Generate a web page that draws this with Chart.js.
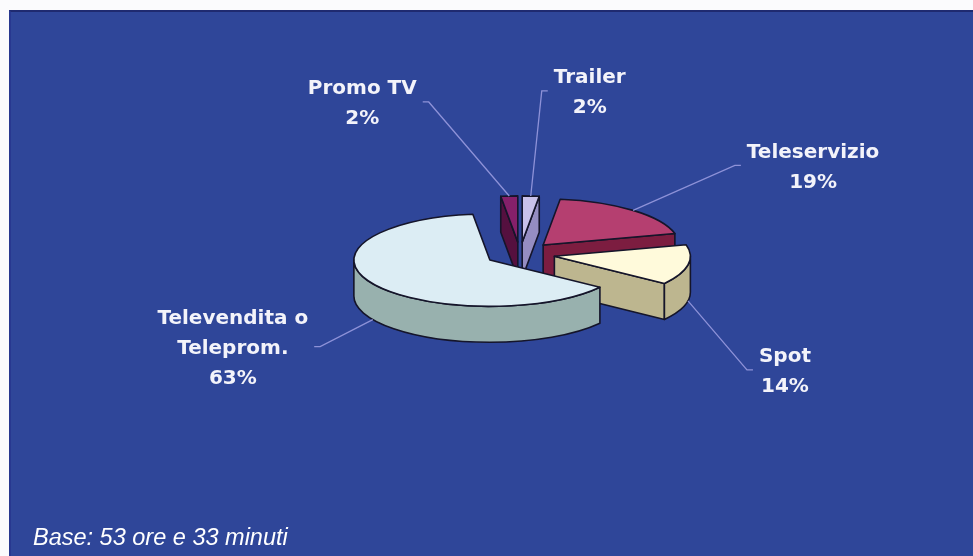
<!DOCTYPE html>
<html>
<head>
<meta charset="utf-8">
<script src="https://cdn.jsdelivr.net/npm/chart.js@4.4.0/dist/chart.umd.min.js"></script>
<style>
  html, body { margin: 0; padding: 0; background: #fbfbfd; }
  #panel {
    position: absolute; left: 9px; top: 10px; width: 964px; height: 546px;
    background: #2f4699; box-sizing: border-box;
    border-top: 2px solid #1f2a70; border-left: 2px solid #283890;
  }
  #chart { position: absolute; left: 9px; top: 10px; }
  #base {
    position: absolute; left: 33px; top: 525px; color: #ffffff;
    font: italic 23.5px "Liberation Sans", Arial, sans-serif; line-height: 24px;
  }
</style>
</head>
<body>
<div id="panel"></div>
<canvas id="chart" width="964" height="546"></canvas>
<div id="base">Base: 53 ore e 33 minuti</div>

<script>
// slices, clockwise from 12 o'clock
const categories = ['Trailer', 'Teleservizio', 'Spot', 'Televendita o Teleprom.', 'Promo TV'];
const labelLines = [['Trailer'], ['Teleservizio'], ['Spot'], ['Televendita o', 'Teleprom.'], ['Promo TV']];
const shares = [2, 19, 14, 63, 2];

const topColors = ['#c9c1ea', '#b53f70', '#fffadb', '#dcedf4', '#85206a'];
const sideColors = ['#958dc2', '#7c1d40', '#bdb68f', '#98b1ae', '#55103f'];

// where each label sits relative to its leader anchor
const labelOffsets = [[59, -105], [180, -45], [97, 69], [-140, 27], [-147, -94]];

const TILT = 0.34;     // vertical squash of the pie
const DEPTH = 36;      // thickness of the slices
const EXPLODE = 35;    // how far every slice is pulled out
const LINE_H = 30;

const pie3d = {
  id: 'pie3d',
  beforeDatasetsDraw(chart) {
    const ctx = chart.ctx;
    const arcs = chart.getDatasetMeta(0).data;

    const slices = arcs.map((arc, i) => {
      const p = arc.getProps(['x', 'y', 'startAngle', 'endAngle', 'outerRadius']);
      const mid = (p.startAngle + p.endAngle) / 2;
      return {
        arc, i, p, mid,
        ax: p.x + Math.cos(mid) * EXPLODE,
        ay: p.y + Math.sin(mid) * EXPLODE * TILT
      };
    });

    // back slices first
    slices.sort((a, b) => Math.sin(a.mid) - Math.sin(b.mid));

    ctx.save();
    ctx.lineWidth = 1.6;
    ctx.strokeStyle = '#15152a';
    ctx.lineJoin = 'round';

    slices.forEach(s => {
      const r = s.p.outerRadius;
      const a0 = s.p.startAngle, a1 = s.p.endAngle;
      const rim = a => [s.ax + r * Math.cos(a), s.ay + r * TILT * Math.sin(a)];
      ctx.fillStyle = sideColors[s.i];

      const face = a => {
        const [px, py] = rim(a);
        ctx.beginPath();
        ctx.moveTo(s.ax, s.ay);
        ctx.lineTo(px, py);
        ctx.lineTo(px, py + DEPTH);
        ctx.lineTo(s.ax, s.ay + DEPTH);
        ctx.closePath();
        ctx.fill();
        ctx.stroke();
      };
      if (Math.cos(a0) < 0) face(a0);
      if (Math.cos(a1) > 0) face(a1);

      // curved outer wall, front half only
      const p0 = Math.max(a0, 0), p1 = Math.min(a1, Math.PI);
      if (p1 > p0) {
        ctx.beginPath();
        ctx.ellipse(s.ax, s.ay, r, r * TILT, 0, p0, p1, false);
        ctx.ellipse(s.ax, s.ay + DEPTH, r, r * TILT, 0, p1, p0, true);
        ctx.closePath();
        ctx.fill();
        ctx.stroke();
      }

      // top face: the library's own arc, squashed and moved out
      ctx.save();
      ctx.translate(s.ax, s.ay);
      ctx.scale(1, TILT);
      ctx.translate(-s.p.x, -s.p.y);
      s.arc.draw(ctx);
      ctx.restore();

      const [sx, sy] = rim(a0);
      ctx.beginPath();
      ctx.moveTo(s.ax, s.ay);
      ctx.lineTo(sx, sy);
      ctx.ellipse(s.ax, s.ay, r, r * TILT, 0, a0, a1, false);
      ctx.closePath();
      ctx.stroke();
    });
    ctx.restore();

    // labels with leader lines
    ctx.save();
    ctx.font = 'bold 20px "DejaVu Sans", Verdana, sans-serif';
    ctx.textAlign = 'center';
    ctx.textBaseline = 'alphabetic';
    slices.forEach(s => {
      const r = s.p.outerRadius;
      const front = Math.sin(s.mid) > 0;
      const anchorX = s.ax + r * Math.cos(s.mid);
      const anchorY = s.ay + r * TILT * Math.sin(s.mid) + (front ? DEPTH : 0);
      const lines = labelLines[s.i].concat([shares[s.i] + '%']);
      const cx = anchorX + labelOffsets[s.i][0];
      const cy = anchorY + labelOffsets[s.i][1];
      const w = Math.max(...lines.map(t => ctx.measureText(t).width));

      const side = cx > anchorX ? 1 : -1;
      const endX = cx - side * (w / 2 + 6);
      ctx.strokeStyle = '#8e92d8';
      ctx.lineWidth = 1.3;
      ctx.beginPath();
      ctx.moveTo(anchorX, anchorY);
      ctx.lineTo(endX - side * 6, cy);
      ctx.lineTo(endX, cy);
      ctx.stroke();

      ctx.fillStyle = '#f3f3fa';
      lines.forEach((t, j) => {
        const ly = cy + (j - (lines.length - 1) / 2) * LINE_H;
        ctx.fillText(t, cx, ly + 7.3);
      });
    });
    ctx.restore();

    return false;
  }
};

new Chart(document.getElementById('chart'), {
  type: 'pie',
  data: {
    labels: categories,
    datasets: [{
      data: shares,
      backgroundColor: topColors,
      borderWidth: 0,
      radius: 136
    }]
  },
  options: {
    responsive: false,
    animation: false,
    devicePixelRatio: 1,
    layout: { padding: { left: 100, right: 42, top: 100, bottom: 158 } },
    plugins: {
      legend: { display: false },
      tooltip: { enabled: false }
    }
  },
  plugins: [pie3d]
});
</script>
</body>
</html>
